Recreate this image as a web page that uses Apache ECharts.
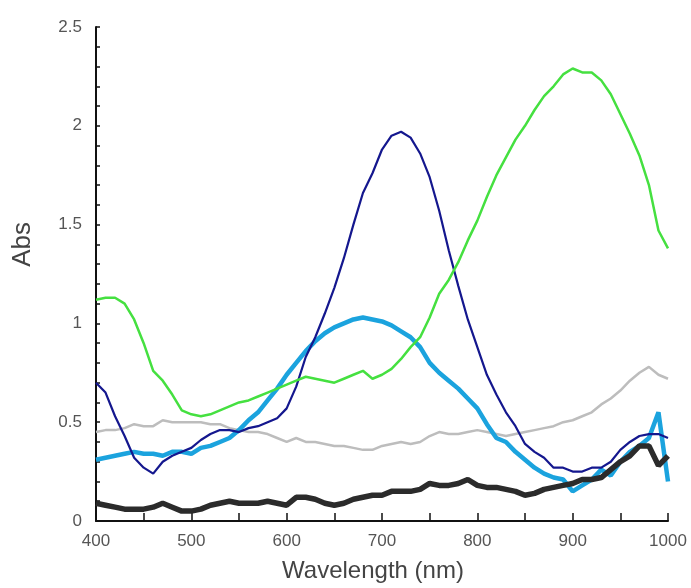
<!DOCTYPE html>
<html>
<head>
<meta charset="utf-8">
<script src="https://cdn.jsdelivr.net/npm/echarts@6/dist/echarts.min.js"></script>
<style>
  html, body { margin: 0; padding: 0; background: #fff; }
  #chart { width: 691px; height: 588px; }
</style>
</head>
<body>
<div id="chart"></div>
<script>
// wavelength grid (nm), 10 nm steps
const wavelengths = [
  400, 410, 420, 430, 440, 450, 460, 470, 480, 490,
  500, 510, 520, 530, 540, 550, 560, 570, 580, 590,
  600, 610, 620, 630, 640, 650, 660, 670, 680, 690,
  700, 710, 720, 730, 740, 750, 760, 770, 780, 790,
  800, 810, 820, 830, 840, 850, 860, 870, 880, 890,
  900, 910, 920, 930, 940, 950, 960, 970, 980, 990, 1000
]

const greenAbs = [
  1.12, 1.13, 1.13, 1.10, 1.02, 0.90, 0.76, 0.71, 0.64, 0.56,
  0.54, 0.53, 0.54, 0.56, 0.58, 0.60, 0.61, 0.63, 0.65, 0.67,
  0.69, 0.71, 0.73, 0.72, 0.71, 0.70, 0.72, 0.74, 0.76, 0.72,
  0.74, 0.77, 0.82, 0.88, 0.93, 1.03, 1.15, 1.22, 1.31, 1.42,
  1.52, 1.64, 1.75, 1.84, 1.93, 2.00, 2.08, 2.15, 2.20, 2.26,
  2.29, 2.27, 2.27, 2.23, 2.16, 2.06, 1.96, 1.85, 1.70, 1.47, 1.38
]

const navyAbs = [
  0.70, 0.65, 0.53, 0.43, 0.32, 0.27, 0.24, 0.30, 0.33, 0.35,
  0.37, 0.41, 0.44, 0.46, 0.46, 0.45, 0.47, 0.48, 0.50, 0.52,
  0.57, 0.68, 0.83, 0.93, 1.05, 1.18, 1.33, 1.50, 1.66, 1.76,
  1.88, 1.95, 1.97, 1.94, 1.86, 1.74, 1.57, 1.37, 1.19, 1.02,
  0.88, 0.74, 0.64, 0.55, 0.48, 0.39, 0.35, 0.32, 0.27, 0.27,
  0.25, 0.25, 0.27, 0.27, 0.30, 0.36, 0.40, 0.43, 0.44, 0.44, 0.42
]

const cyanAbs = [
  0.31, 0.32, 0.33, 0.34, 0.35, 0.34, 0.34, 0.33, 0.35, 0.35,
  0.34, 0.37, 0.38, 0.40, 0.42, 0.46, 0.51, 0.55, 0.61, 0.67,
  0.74, 0.80, 0.86, 0.91, 0.95, 0.98, 1.00, 1.02, 1.03, 1.02,
  1.01, 0.99, 0.96, 0.93, 0.88, 0.80, 0.75, 0.71, 0.67, 0.62,
  0.57, 0.49, 0.42, 0.40, 0.35, 0.31, 0.27, 0.24, 0.22, 0.21,
  0.15, 0.18, 0.21, 0.26, 0.23, 0.30, 0.35, 0.38, 0.42, 0.55, 0.20
]

const greyAbs = [
  0.45, 0.46, 0.46, 0.47, 0.49, 0.48, 0.48, 0.51, 0.50, 0.50,
  0.50, 0.50, 0.49, 0.49, 0.47, 0.46, 0.45, 0.45, 0.44, 0.42,
  0.40, 0.42, 0.40, 0.40, 0.39, 0.38, 0.38, 0.37, 0.36, 0.36,
  0.38, 0.39, 0.40, 0.39, 0.40, 0.43, 0.45, 0.44, 0.44, 0.45,
  0.46, 0.45, 0.44, 0.43, 0.44, 0.45, 0.46, 0.47, 0.48, 0.50,
  0.51, 0.53, 0.55, 0.59, 0.62, 0.66, 0.71, 0.75, 0.78, 0.74, 0.72
]

const blackAbs = [
  0.09, 0.08, 0.07, 0.06, 0.06, 0.06, 0.07, 0.09, 0.07, 0.05,
  0.05, 0.06, 0.08, 0.09, 0.10, 0.09, 0.09, 0.09, 0.10, 0.09,
  0.08, 0.12, 0.12, 0.11, 0.09, 0.08, 0.09, 0.11, 0.12, 0.13,
  0.13, 0.15, 0.15, 0.15, 0.16, 0.19, 0.18, 0.18, 0.19, 0.21,
  0.18, 0.17, 0.17, 0.16, 0.15, 0.13, 0.14, 0.16, 0.17, 0.18,
  0.19, 0.21, 0.21, 0.22, 0.26, 0.30, 0.33, 0.38, 0.38, 0.28, 0.33
]

const FONT = '"Liberation Sans", Arial, sans-serif'

const SERIES = [
  { name: 'grey', data: greyAbs, color: '#bdbdbd', width: 2.5 },
  { name: 'cyan', data: cyanAbs, color: '#1ba3de', width: 4.5 },
  { name: 'black', data: blackAbs, color: '#2b2b2b', width: 5.5 },
  { name: 'navy', data: navyAbs, color: '#14178e', width: 2.2 },
  { name: 'green', data: greenAbs, color: '#45e040', width: 2.5 },
]

const chart = echarts.init(document.getElementById('chart'), null, { renderer: 'canvas' })

chart.setOption({
  animation: false,
  backgroundColor: '#fff',
  grid: { left: 96, right: 23, top: 27, bottom: 67, containLabel: false },
  xAxis: {
    type: 'value',
    min: 400,
    max: 1000,
    interval: 100,
    name: 'Wavelength (nm)',
    nameLocation: 'middle',
    nameGap: 38,
    nameTextStyle: { fontSize: 24, color: '#444', fontFamily: FONT, padding: [0, 18, 0, 0] },
    axisLine: { lineStyle: { color: '#111', width: 2 } },
    axisTick: { inside: true, length: 8, lineStyle: { color: '#111', width: 1.5 } },
    minorTick: { show: true, splitNumber: 2, length: 8, lineStyle: { color: '#111', width: 1.5 } },
    axisLabel: { fontSize: 17, color: '#555', fontFamily: FONT, margin: 12, formatter: v => String(v) },
    splitLine: { show: false },
  },
  yAxis: {
    type: 'value',
    min: 0,
    max: 2.5,
    interval: 0.5,
    axisLine: { show: true, lineStyle: { color: '#111', width: 2 } },
    axisTick: { show: true, inside: true, length: 4, lineStyle: { color: '#111', width: 1.5 } },
    minorTick: { show: true, splitNumber: 5, length: 4, lineStyle: { color: '#111', width: 1.5 } },
    axisLabel: { fontSize: 17, color: '#555', fontFamily: FONT, margin: 14 },
    splitLine: { show: false },
  },
  graphic: [
    {
      type: 'text',
      left: 10,
      top: 222,
      rotation: Math.PI / 2,
      originX: 0,
      originY: 0,
      style: { text: 'Abs', fontSize: 26, fill: '#444', font: '26px ' + FONT },
    },
  ],
  series: SERIES.map(cfg => ({
    name: cfg.name,
    type: 'line',
    data: wavelengths.map((w, i) => [w, cfg.data[i]]),
    showSymbol: false,
    symbol: 'none',
    lineStyle: { color: cfg.color, width: cfg.width },
    itemStyle: { color: cfg.color },
  })),
})
</script>
</body>
</html>
